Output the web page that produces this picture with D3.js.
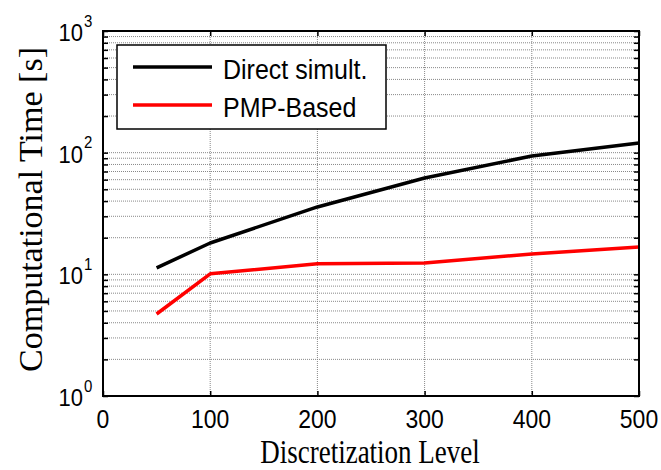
<!DOCTYPE html>
<html>
<head>
<meta charset="utf-8">
<script src="https://cdn.jsdelivr.net/npm/d3@7"></script>
<style>
  body { margin: 0; background: #fff; }
  svg { display: block; }
  .tick text { display: none; }
  .domain { display: none; }
</style>
</head>
<body>
<div id="chart"></div>
<script>
// values
const levels = [50, 100, 200, 300, 400, 500];
const directSim = [11.3, 18.1, 35.8, 61.9, 93.9, 120];
const pmpBased = [4.72, 10.1, 12.2, 12.4, 14.7, 16.8];
const xTicks = [0, 100, 200, 300, 400, 500];
const yDecades = [1, 10, 100, 1000];
const seriesNames = ["Direct simult.", "PMP-Based"];
const seriesColors = ["#000000", "#ff0000"];

const width = 661;
const height = 470;
const margin = { top: 31, right: 22, bottom: 74, left: 103 };
const plot = {
  left: margin.left,
  right: width - margin.right,
  top: margin.top,
  bottom: height - margin.bottom,
};

const svg = d3
  .select("#chart")
  .append("svg")
  .attr("width", width)
  .attr("height", height);

const xScale = d3.scaleLinear().domain([0, 500]).range([plot.left, plot.right]);
const yScale = d3.scaleLog().domain([1, 1000]).range([plot.bottom, plot.top]);

// minor values 1..9 for each decade
const yMinor = [];
yDecades.slice(0, -1).forEach((d) => {
  for (let k = 1; k < 10; k++) yMinor.push(d * k);
});
yMinor.push(1000);

// gridlines (dotted, MATLAB style)
const grid = svg.append("g").attr("class", "grid");
grid
  .selectAll("line.gy")
  .data(yMinor)
  .join("line")
  .attr("class", "gy")
  .attr("x1", plot.left)
  .attr("x2", plot.right)
  .attr("y1", (d) => yScale(d))
  .attr("y2", (d) => yScale(d))
  .attr("stroke", "#888")
  .attr("stroke-dasharray", "1,1");
grid
  .selectAll("line.gx")
  .data(xTicks)
  .join("line")
  .attr("class", "gx")
  .attr("x1", (d) => xScale(d))
  .attr("x2", (d) => xScale(d))
  .attr("y1", plot.top)
  .attr("y2", plot.bottom)
  .attr("stroke", "#888")
  .attr("stroke-dasharray", "1,1");

// lines
const line = d3
  .line()
  .x((d) => xScale(d[0]))
  .y((d) => yScale(d[1]));

[directSim, pmpBased].forEach((vals, i) => {
  svg
    .append("path")
    .datum(levels.map((l, j) => [l, vals[j]]))
    .attr("d", line)
    .attr("fill", "none")
    .attr("stroke", seriesColors[i])
    .attr("stroke-width", 3.5)
    .attr("stroke-linejoin", "round");
});

// inward ticks on all four sides
const tickLen = 5;
svg.append("g")
  .attr("transform", `translate(0, ${plot.bottom})`)
  .call(d3.axisBottom(xScale).tickValues(xTicks).tickSizeInner(-tickLen).tickSizeOuter(0));
svg.append("g")
  .attr("transform", `translate(0, ${plot.top})`)
  .call(d3.axisTop(xScale).tickValues(xTicks).tickSizeInner(-tickLen).tickSizeOuter(0));
svg.append("g")
  .attr("transform", `translate(${plot.left}, 0)`)
  .call(d3.axisLeft(yScale).tickValues(yMinor).tickSizeInner(-tickLen).tickSizeOuter(0));
svg.append("g")
  .attr("transform", `translate(${plot.right}, 0)`)
  .call(d3.axisRight(yScale).tickValues(yMinor).tickSizeInner(-tickLen).tickSizeOuter(0));
svg.selectAll(".tick line").attr("stroke", "#000").attr("stroke-width", 1.5);

// box
svg
  .append("rect")
  .attr("x", plot.left)
  .attr("y", plot.top)
  .attr("width", plot.right - plot.left)
  .attr("height", plot.bottom - plot.top)
  .attr("fill", "none")
  .attr("stroke", "#000")
  .attr("stroke-width", 2);

// x tick labels
svg
  .append("g")
  .selectAll("text")
  .data(xTicks)
  .join("text")
  .attr("transform", (d) => `translate(${xScale(d)}, ${plot.bottom + 32}) scale(1, 1.15)`)
  .attr("text-anchor", "middle")
  .attr("font-family", "Arial, 'Liberation Sans', sans-serif")
  .attr("font-size", 23)
  .text((d) => d);

// y tick labels: 10^n
const yLab = svg
  .append("g")
  .selectAll("g")
  .data(yDecades)
  .join("g")
  .attr("transform", (d) => `translate(${plot.left - 20}, ${yScale(d) + 10}) scale(1, 1.1)`);
yLab
  .append("text")
  .attr("text-anchor", "end")
  .attr("font-family", "Arial, 'Liberation Sans', sans-serif")
  .attr("font-size", 22)
  .text("10");
yLab
  .append("text")
  .attr("x", 1)
  .attr("y", -13)
  .attr("font-family", "Arial, 'Liberation Sans', sans-serif")
  .attr("font-size", 15)
  .text((d) => Math.round(Math.log10(d)));

// axis titles
svg
  .append("text")
  .attr("transform", `translate(${(plot.left + plot.right) / 2 - 1}, 463) scale(1, 1.25)`)
  .attr("text-anchor", "middle")
  .attr("font-family", "'Times New Roman', 'Liberation Serif', serif")
  .attr("font-size", 27)
  .text("Discretization Level");

svg
  .append("text")
  .attr("transform", `translate(42, ${(plot.top + plot.bottom) / 2 - 4}) rotate(-90)`)
  .attr("text-anchor", "middle")
  .attr("font-family", "'Times New Roman', 'Liberation Serif', serif")
  .attr("font-size", 34)
  .text("Computational Time [s]");

// legend
const legend = svg.append("g");
legend
  .append("rect")
  .attr("x", 117)
  .attr("y", 45)
  .attr("width", 269)
  .attr("height", 84)
  .attr("fill", "#fff")
  .attr("stroke", "#000")
  .attr("stroke-width", 1.5);

const items = legend
  .selectAll("g")
  .data(seriesNames)
  .join("g")
  .attr("transform", (d, i) => `translate(0, ${67 + i * 38})`);
items
  .append("line")
  .attr("x1", 133)
  .attr("x2", 212)
  .attr("stroke", (d, i) => seriesColors[i])
  .attr("stroke-width", 3.5);
items
  .append("text")
  .attr("transform", "translate(223, 12) scale(1, 1.1)")
  .attr("font-family", "Arial, 'Liberation Sans', sans-serif")
  .attr("font-size", 25)
  .text((d) => d);
</script>
</body>
</html>
